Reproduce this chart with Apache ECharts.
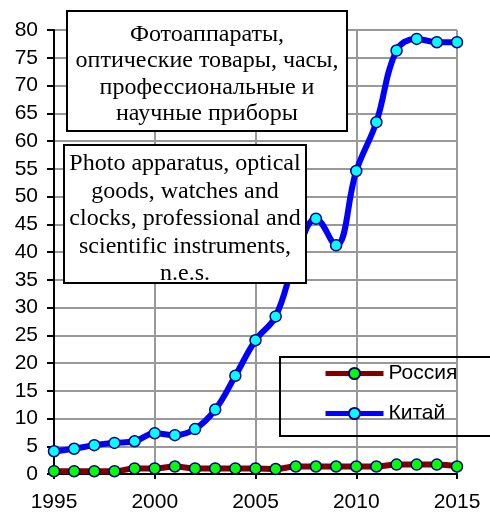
<!DOCTYPE html>
<html><head><meta charset="utf-8">
<script src="https://cdn.jsdelivr.net/npm/echarts@6/dist/echarts.min.js"></script>
<style>html,body{margin:0;padding:0;background:#fff}#c{width:490px;height:513px}</style>
</head><body><div id="c"></div>
<script>
const years = [1995,1996,1997,1998,1999,2000,2001,2002,2003,2004,2005,2006,2007,2008,2009,2010,2011,2012,2013,2014,2015];
const russia = [0.5,0.5,0.5,0.5,1.0,1.0,1.35,1.0,1.0,1.0,1.0,0.9,1.35,1.35,1.35,1.35,1.35,1.7,1.7,1.7,1.35];
const china = [4.1,4.55,5.2,5.6,5.9,7.35,7.0,8.1,11.6,17.7,24.1,28.4,39.0,46.0,41.2,54.6,63.4,76.3,78.4,77.8,77.8];
const seriesNames = ['Россия','Китай'];
const ruTitle = 'Фотоаппараты,\nоптические товары, часы,\nпрофессиональные и\nнаучные приборы';
const enTitle = 'Photo apparatus, optical\ngoods, watches and\nclocks, professional and\nscientific instruments,\nn.e.s.';

const chart = echarts.init(document.getElementById('c'));
const pair = (arr) => years.map((y,i)=>[y,arr[i]]);
chart.setOption({
  animation:false,
  grid:{left:54,right:33,top:30,bottom:33},
  xAxis:{type:'value',min:1995,max:2015,interval:5,
    axisLine:{lineStyle:{color:'#000',width:2}},
    axisTick:{show:true,inside:false,length:5,lineStyle:{color:'#000',width:2}},
    axisLabel:{color:'#000',fontSize:21,fontFamily:'Liberation Sans',margin:18,formatter:(v)=>String(v)},
    splitLine:{show:true,lineStyle:{color:'#999',width:2}}},
  yAxis:{type:'value',min:0,max:80,interval:5,
    axisLine:{show:true,lineStyle:{color:'#000',width:2}},
    axisTick:{show:true,inside:false,length:7,lineStyle:{color:'#000',width:2}},
    axisLabel:{color:'#000',fontSize:21,fontFamily:'Liberation Sans',margin:16},
    splitLine:{show:true,lineStyle:{color:'#999',width:2}}},
  legend:{orient:'vertical',left:323,top:363,padding:0,itemWidth:58,itemHeight:14,itemGap:19,
    lineStyle:{width:5},
    textStyle:{fontSize:21,fontFamily:'Liberation Sans',color:'#000'},
    data:seriesNames},
  series:[
    {name:seriesNames[0],type:'line',data:pair(russia),smooth:0.4,symbol:'circle',symbolSize:11,
      lineStyle:{color:'#800000',width:6},itemStyle:{color:'#00ff00',borderColor:'#000080',borderWidth:1.5},z:3},
    {name:seriesNames[1],type:'line',data:pair(china),smooth:0.4,symbol:'circle',symbolSize:11,
      lineStyle:{color:'#0000ff',width:6},itemStyle:{color:'#00ffff',borderColor:'#000080',borderWidth:1.5},z:4}
  ],
  graphic:[
    {type:'rect',z:100,shape:{x:280,y:357,width:230,height:79},style:{fill:'rgba(0,0,0,0)',stroke:'#000',lineWidth:2}},
    {type:'rect',z:100,shape:{x:67,y:11,width:280,height:120},style:{fill:'#fff',stroke:'#000',lineWidth:2}},
    {type:'text',z:101,x:207,y:74,style:{text:ruTitle,font:'24px "Liberation Serif"',fill:'#000',align:'center',verticalAlign:'middle',lineHeight:26.5}},
    {type:'rect',z:100,shape:{x:64,y:145,width:242,height:138},style:{fill:'#fff',stroke:'#000',lineWidth:2}},
    {type:'text',z:101,x:185,y:219,style:{text:enTitle,font:'24px "Liberation Serif"',fill:'#000',align:'center',verticalAlign:'middle',lineHeight:27.5}}
  ]
});
</script></body></html>
